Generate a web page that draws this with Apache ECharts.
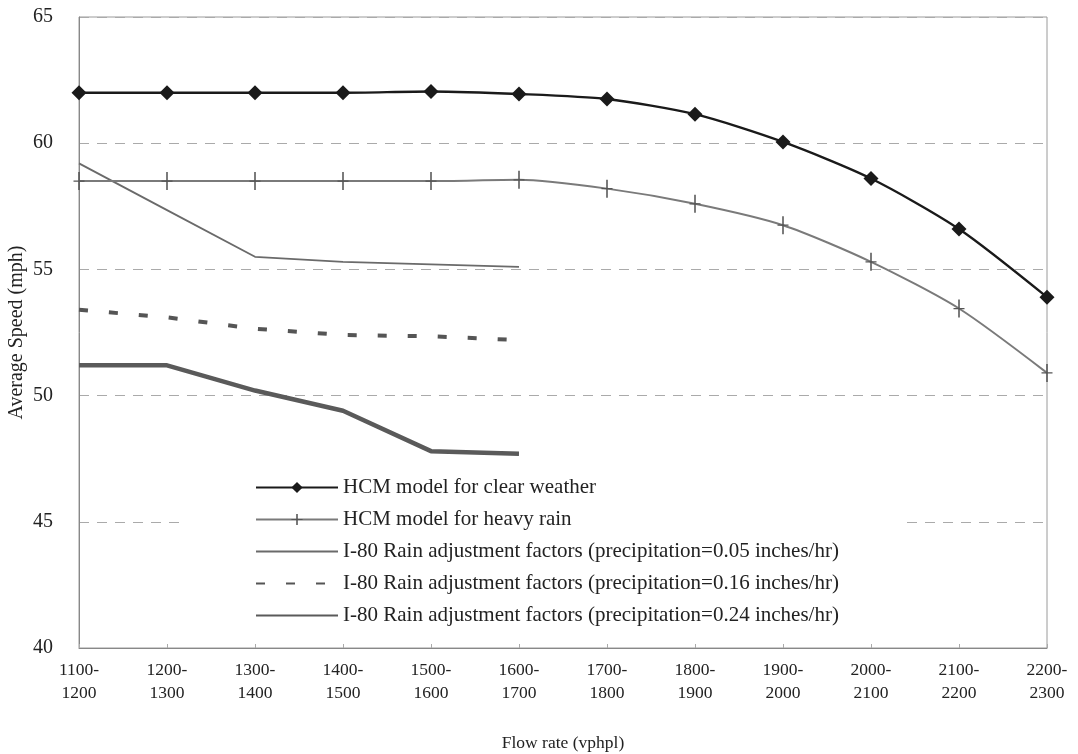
<!DOCTYPE html>
<html><head><meta charset="utf-8">
<script src="https://cdn.jsdelivr.net/npm/echarts@6/dist/echarts.min.js"></script>
<style>html,body{margin:0;padding:0;background:#fff}#c{width:1078px;height:754px}</style>
</head><body><div id="c"></div>
<script>
const categories = ['1100-\n1200','1200-\n1300','1300-\n1400','1400-\n1500','1500-\n1600','1600-\n1700','1700-\n1800','1800-\n1900','1900-\n2000','2000-\n2100','2100-\n2200','2200-\n2300'];
const yTicks = [40, 45, 50, 55, 60, 65];
const clearWeather = [62.0, 62.0, 62.0, 62.0, 62.05, 61.95, 61.75, 61.15, 60.05, 58.6, 56.6, 53.9];
const heavyRain = [58.5, 58.5, 58.5, 58.5, 58.5, 58.55, 58.2, 57.6, 56.75, 55.3, 53.45, 50.9];
const rain005 = [59.2, 57.35, 55.5, 55.3, 55.2, 55.1];
const rain016 = [53.4, 53.1, 52.65, 52.4, 52.35, 52.2];
const rain024 = [51.2, 51.2, 50.2, 49.4, 47.8, 47.7];
const names = ['HCM model for clear weather','HCM model for heavy rain','I-80 Rain adjustment factors (precipitation=0.05 inches/hr)','I-80 Rain adjustment factors (precipitation=0.16 inches/hr)','I-80 Rain adjustment factors (precipitation=0.24 inches/hr)'];

const font = 'Liberation Serif, Times New Roman, serif';
const plus = 'path://M4.3,0 L5.7,0 L5.7,9.3 L10,9.3 L10,10.7 L5.7,10.7 L5.7,20 L4.3,20 L4.3,10.7 L0,10.7 L0,9.3 L4.3,9.3 Z';
const hidden = {color:'rgba(0,0,0,0)',borderColor:'rgba(0,0,0,0)',borderWidth:0,opacity:0};
const chart = echarts.init(document.getElementById('c'), null, {renderer:'canvas'});
chart.setOption({
  backgroundColor:'#fff',
  animation:false,
  grid:{left:79,right:31,top:17,bottom:106,containLabel:false,outerBoundsMode:'none',show:true,borderColor:'#9a9a9a',borderWidth:1},
  legend:{
    orient:'vertical', left:185, top:469,
    padding:[8,62,8,70],
    backgroundColor:'#fff',
    itemWidth:82, itemHeight:14, itemGap:11,
    textStyle:{fontFamily:font,fontSize:21,color:'#222'},
    data:[
      {name:names[0]},
      {name:names[1]},
      {name:names[2],itemStyle:hidden},
      {name:names[3],itemStyle:hidden},
      {name:names[4],itemStyle:hidden}
    ]
  },
  xAxis:{
    type:'category', data:categories, boundaryGap:false,
    axisLine:{lineStyle:{color:'#888',width:1}},
    axisTick:{show:true,length:4,inside:true,lineStyle:{color:'#aaa'}},
    axisLabel:{fontFamily:font,fontSize:17.5,color:'#222',margin:11,lineHeight:23,interval:0},
    splitLine:{show:false},
    name:'Flow rate (vphpl)', nameLocation:'middle', nameGap:86, nameMoveOverlap:false,
    nameTextStyle:{fontFamily:font,fontSize:17.5,color:'#222'}
  },
  yAxis:{
    type:'value', min:yTicks[0], max:yTicks[yTicks.length-1], interval:5,
    axisLine:{show:true,lineStyle:{color:'#888',width:1}},
    axisTick:{show:false},
    axisLabel:{fontFamily:font,fontSize:20,color:'#222',margin:26},
    splitLine:{show:true,lineStyle:{color:'#aaa',type:[10,8],width:1}},
    name:'Average Speed (mph)', nameLocation:'middle', nameGap:52, nameRotate:90, nameMoveOverlap:false,
    nameTextStyle:{fontFamily:font,fontSize:20,color:'#222'}
  },
  series:[
    {name:names[0],type:'line',data:clearWeather,smooth:0.25,symbol:'diamond',symbolSize:15,
     lineStyle:{color:'#1a1a1a',width:2.4},itemStyle:{color:'#1a1a1a'},z:5},
    {name:names[1],type:'line',data:heavyRain,smooth:0.25,symbol:plus,symbolSize:[11,18],
     lineStyle:{color:'#7a7a7a',width:2},itemStyle:{color:'#555'},z:4},
    {name:names[2],type:'line',data:rain005,symbol:'none',
     lineStyle:{color:'#6a6a6a',width:1.8},itemStyle:{color:'#6a6a6a'}},
    {name:names[3],type:'line',data:rain016,symbol:'none',
     lineStyle:{color:'#555',width:4,type:[9,21]},itemStyle:{color:'#555'}},
    {name:names[4],type:'line',data:rain024,symbol:'none',
     lineStyle:{color:'#5a5a5a',width:4.5},itemStyle:{color:'#5a5a5a'}}
  ]
});
</script></body></html>
